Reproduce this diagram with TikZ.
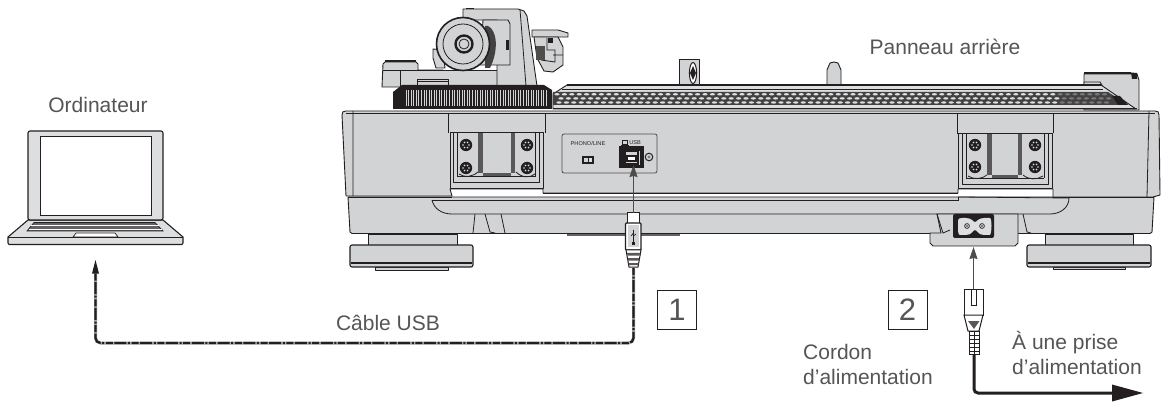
\documentclass[tikz,border=0pt]{standalone}
\usepackage{fontspec}
\setmainfont{Liberation Sans}
\usetikzlibrary{arrows.meta}
\definecolor{bodyg}{HTML}{D2D3D4}
\definecolor{lightg}{HTML}{DDDEDF}
\definecolor{ink}{HTML}{231F20}
\definecolor{txt}{HTML}{555555}
\tikzset{
  part/.style={draw=ink,fill=bodyg,line width=0.9pt,line join=round},
  ln/.style={draw=ink,line width=0.8pt},
  lbl/.style={font=\fontsize{21}{24}\selectfont,text=txt,inner sep=0pt},
  numbox/.style={draw=ink,line width=0.8pt,minimum width=39pt,minimum height=39pt,inner sep=0pt,font=\fontsize{31}{31}\selectfont,text=txt},
  thinarrow/.style={draw=ink!80,line width=1pt,-{Stealth[length=12pt,width=8pt,inset=1pt]}},
  screw/.pic={
    \fill[ink] (0,0) circle (6.2);
    \foreach \a in {0,60,...,300}{\fill[lightg] (\a:3) circle (0.9);}
  }
}
\begin{document}
\begin{tikzpicture}[x=1pt,y=-1pt]
\useasboundingbox (0,0) rectangle (1162,406);
\fill[white] (0,0) rectangle (1162,406);

% ---- rear posts
\filldraw[part] (679,86) -- (679,59.5) -- (699,59.5) -- (699,86) -- cycle;
\filldraw[draw=ink,fill=white,line width=1pt] (693,73) ellipse (3.6 and 10.5);
\fill[ink] (693,66) -- (696,73) -- (693,80) -- (690,73) -- cycle;
\filldraw[part] (827,86) -- (827,70) -- (830,63) -- (834,62) -- (838,63) -- (841,70) -- (841,86) -- cycle;
\filldraw[part] (1084,110) -- (1084,74) -- (1137,74) -- (1139,80) -- (1139,110) -- cycle;
\fill[ink] (1084,72.5) rectangle (1131,74.5);
\fill[ink] (1131,72.5) -- (1137,73) -- (1137,79) -- (1132,79) -- cycle;
\filldraw[part] (1084,82) -- (1100,82) -- (1103,87) -- (1084,87) -- cycle;

% ---- platter
\filldraw[part,fill=lightg] (553,94) -- (567,85) -- (1101,85) -- (1136,109) -- (553,109) -- cycle;
\draw[ink,line width=1.5pt] (567,85) -- (1101,85);
\draw[ink,line width=0.7pt] (562,89) -- (1103,89);
\fill[ink!85] (553,92) -- (1108,92) -- (1128,105) -- (553,105) -- cycle;
\foreach \i in {0,...,74}{
  \pgfmathsetmacro\xa{557+\i*7.4}
  \pgfmathsetmacro\xb{561+\i*7.4}
  \pgfmathsetmacro\xc{559+\i*7.4}
  \pgfmathsetmacro\op{\i>67?0.35:1}
  \fill[lightg,opacity=\op] (\xa,94.3) ellipse (2.6 and 1.2);
  \fill[lightg,opacity=\op] (\xb,98.4) ellipse (2.6 and 1.2);
  \fill[lightg,opacity=\op] (\xc,102.5) ellipse (2.6 and 1.2);
}
\fill[ink] (1112,96) -- (1120,96) -- (1128,105) -- (1118,105) -- cycle;
\draw[ink,line width=0.8pt] (553,108.5) -- (1137,108.5);

% ---- tonearm
\filldraw[part] (382,87) -- (383,64) -- (385,62) -- (416,62) -- (418,64) -- (418,70) -- (443,70) -- (443,87) -- cycle;
\draw[ink,line width=2pt] (385,61.5) -- (416,61.5);
\draw[ln] (383,70) -- (418,70) (400,70) -- (400,87);
\filldraw[part] (443,50) -- (433,49) -- (433,58) -- (436,68) -- (445,68) -- cycle;
\filldraw[part] (400,87) -- (400,70) -- (497,70) -- (497,87) -- cycle;
\filldraw[part] (417,79) rectangle (448,85);
\draw[ln] (417,81) -- (448,81);
\filldraw[part] (463,9) -- (463,20) -- (497,20) -- (497,86) -- (537,86) -- (527,16) -- (524,11) -- (518,9) -- cycle;
\draw[ln] (520,9.5) -- (526,86);
\draw[ink,line width=1.6pt] (466,8.5) -- (474,8.5);
% headshell
\filldraw[part] (532,30) -- (558,30) -- (568,33) -- (568,37) -- (532,37) -- cycle;
\filldraw[part] (534,37) -- (558,37) -- (563,47) -- (563,65) -- (553,72) -- (544,71) -- (537,58) -- cycle;
\draw[ln] (547,38) -- (547,50) -- (555,50) -- (555,62) -- (541,60) (553,55) -- (563,55);
\fill[ink] (548,38) rectangle (553,43);
\fill[ink!80] (536,46) rectangle (545,60);
% weight block
\filldraw[part] (483,20) -- (508,20) -- (510,24) -- (510,65) -- (480,65) -- cycle;
\fill[ink!85] (488,26) .. controls (497,30) and (499,50) .. (490,68) -- (485,68) -- (485,26) -- cycle;
\fill[ink] (506,40) rectangle (509,50);
% counterweight
\filldraw[draw=ink,fill=bodyg,line width=1.6pt] (463,44) circle (26.5);
\draw[ln] (463,44) circle (20);
\filldraw[draw=ink,fill=bodyg,line width=2.4pt] (464,44) circle (8.5);
\filldraw[draw=ink,fill=bodyg,line width=0.8pt] (464,44) circle (5);

% ---- ribbed ring
\fill[ink] (393,92) -- (402,85) -- (544,85) -- (552,90) -- (552,109) -- (393,109) -- cycle;
\foreach \i in {0,...,55}{
  \pgfmathsetmacro\xr{406+\i*2.55}
  \draw[bodyg,line width=0.7pt] (\xr,90) -- (\xr,106);
}

% ---- lower body
\filldraw[part] (348,197) -- (350,232) -- (352,233.5) -- (1150,233.5) -- (1152,232) -- (1154,197) -- cycle;
\fill[white] (490,235) rectangle (940,238);
\fill[ink!70] (567,234) rectangle (680,236.5);
\draw[ln] (432,200) .. controls (434,209) and (442,214) .. (452,214) -- (1050,214) .. controls (1060,214) and (1069,208) .. (1069,198);
\draw[ln] (475,214) -- (473,233) (485,214) -- (490,232) -- (495,233) (501,214) -- (505,233);
\draw[ln] (1023,214) -- (1027,232) -- (1031,233) ;

% ---- power bump
\filldraw[part] (930,233) -- (930,243) -- (933,246) -- (1015,246) -- (1018,243) -- (1018,214) -- (937,214) -- (941,233) -- cycle;
\draw[ln] (937,214) -- (943,233) -- (950,230);

% ---- main body
\filldraw[part] (342,115) .. controls (342,112) and (343,111) .. (346,111) -- (1155,111) .. controls (1158,111) and (1159,112) .. (1159,115) -- (1160,195) -- (1153,197) -- (1053,197) -- (1053,189) -- (958,189) -- (958,193) -- (543,193) -- (543,189) -- (450,189) -- (452,196) -- (346,196) -- cycle;
\draw[ln] (353,111) -- (353,196) (1149,111) -- (1147,197);
\draw[ink,line width=1pt] (346,113.5) -- (1155,113.5);
\draw[ln] (348,197) -- (452,197);
\draw[ln] (543,193) -- (958,193);
\draw[ln] (452,200) -- (958,200) -- (958,197);
\draw[ln] (1053,197) -- (1154,197);
\draw[ln] (432,200) -- (452,200);
\draw[ln] (958,197) -- (1069,198);

% ---- left pocket
\draw[ln] (448,113) -- (448,133) (545,113) -- (545,133);
\filldraw[part,line width=1pt] (450,133) -- (450,189) -- (543,189) -- (543,133) -- cycle;
\filldraw[part,line width=1pt] (453,133) rectangle (539,183);
\fill[ink!75] (478,133) rectangle (483,173);
\fill[ink!75] (511,133) rectangle (515,173);
\fill[ink!75] (483,173) rectangle (511,176);
\draw[ln] (457,133) -- (457,176) (535,133) -- (535,176) (457,176) -- (536,176);
\draw[ln] (459,174) .. controls (465,178) and (472,177) .. (478,172);
\draw[ln] (516,172) .. controls (522,178) and (530,178) .. (535,174);
\foreach \p in {(466,145),(466,168),(527,145),(527,168)} \pic at \p {screw};

% ---- right pocket
\draw[ln] (957,113) -- (957,133) (1053,113) -- (1053,133);
\draw[ln] (957,133) -- (1053,133);
\filldraw[part,line width=1pt] (958,134) -- (958,189) -- (1052,189) -- (1052,134) -- cycle;
\filldraw[part,line width=1pt] (962,134) rectangle (1048,185);
\fill[ink!75] (987,134) rectangle (992,175);
\fill[ink!75] (1018,134) rectangle (1022,175);
\fill[ink!75] (992,175) rectangle (1018,178);
\draw[ln] (966,134) -- (966,178) (1044,134) -- (1044,178) (966,178) -- (1044,178);
\draw[ln] (968,176) .. controls (974,180) and (982,179) .. (987,175);
\draw[ln] (1023,175) .. controls (1029,180) and (1037,180) .. (1043,176);
\foreach \p in {(975,145),(975,167),(1035,145),(1035,167)} \pic at \p {screw};

% ---- USB panel
\filldraw[draw=ink!80,fill=bodyg,line width=0.8pt,rounded corners=2pt] (562,134) rectangle (657,173);
\node (phono) at (588,143) [inner sep=0pt,text=ink,font=\fontsize{5.6}{6}\selectfont] {PHONO/LINE};
\node (usblabel) at (635,143) [inner sep=0pt,text=ink,font=\fontsize{5.6}{6}\selectfont] {USB};
\draw[ink,line width=0.6pt] (622,140.5) rectangle (627,144) (620.5,145.5) -- (628.5,145.5);
\fill[ink] (582,156) rectangle (594,164);
\fill[bodyg] (584,158) rectangle (587.5,162);
\fill[lightg] (589,158) rectangle (592,162);
\node (usbport) at (631.5,157) [fill=ink,minimum width=25pt,minimum height=22pt,inner sep=0pt] {};
\filldraw[draw=ink,fill=bodyg,line width=0.5pt] (623,150) -- (640,150) -- (640,165) -- (623,165) -- cycle;
\filldraw[draw=ink,fill=bodyg,line width=1.5pt] (625,151) -- (638,151) -- (638,164) -- (625,164) -- cycle;
\fill[ink] (626,155) rectangle (637,162);
\fill[white] (628,157) rectangle (635,160);
\filldraw[draw=ink,fill=bodyg,line width=1pt] (649,157) circle (3.8);
\fill[ink!60] (649,157) circle (1.6);

% ---- feet
\filldraw[part] (368,234) rectangle (457,245);
\filldraw[part] (375,267) rectangle (448,270);
\filldraw[part,line width=1.1pt,rounded corners=2pt] (350,245) rectangle (473,267);
\draw[ink,line width=1.1pt] (351,263) -- (472,263);
\filldraw[part] (1045,234) rectangle (1133,245);
\filldraw[part] (1053,267) rectangle (1125,269.5);
\filldraw[part,line width=1.1pt,rounded corners=2pt] (1027,245) rectangle (1151,267);
\draw[ink,line width=1.1pt] (1028,263) -- (1150,263);

% ---- AC inlet
\node (inlet) at (973.5,226) [fill=ink,rounded corners=2pt,minimum width=41pt,minimum height=24pt,inner sep=0pt] {};
\filldraw[draw=none,fill=lightg] (958,222) .. controls (958,218) and (960,218) .. (962,218) -- (966,218) .. controls (972,218) and (973,222) .. (975,222) .. controls (977,222) and (978,218) .. (984,218) -- (990,218) .. controls (992,219) and (992,232) .. (990,235) -- (984,235) .. controls (978,235) and (977,230) .. (975,230) .. controls (973,230) and (972,235) .. (966,235) -- (960,235) .. controls (958,235) and (958,232) .. (958,222) -- cycle;
\draw[ink,line width=0.7pt] (967,226) circle (2.4) (982,226) circle (2.4);
\fill[ink] (967,226) circle (0.8) (982,226) circle (0.8);

% ---- laptop
\filldraw[part,fill=lightg,line width=1.1pt] (28,220) -- (163,220) -- (183,237) -- (183,243) -- (182,244.5) -- (9,244.5) -- (8,243) -- (8,237) -- cycle;
\draw[ink,line width=0.9pt] (8,237.5) -- (183,237.5);
\filldraw[part,fill=lightg,line width=1.1pt,rounded corners=2pt] (28,220) rectangle (163,131);
\filldraw[draw=ink,fill=white,line width=1pt] (40,137) rectangle (151,216);
\filldraw[draw=ink,fill=ink!70,line width=0.7pt] (34,222.5) -- (155,222.5) -- (163,231) -- (27,231) -- cycle;
\draw[white,line width=0.9pt] (31,225.5) -- (159,225.5);
\draw[white,line width=0.9pt] (29,229) -- (162,229);
\filldraw[draw=ink,fill=white,line width=0.7pt] (76,233) -- (115,233) -- (118,237) -- (73,237) -- cycle;

% ---- USB plug
\node (usbstem) at (633.5,218) [draw=ink,fill=white,line width=1pt,minimum width=12pt,minimum height=11pt,inner sep=0pt] {};
\filldraw[draw=ink,fill=white,line width=1.1pt,rounded corners=1pt] (625.5,223) rectangle (641,250);
\filldraw[draw=none,fill=bodyg] (627.5,225.5) rectangle (639,247.5);
\draw[ink,line width=0.7pt] (633.5,230) -- (633.5,243) (633.5,233) -- (631,236) (633.5,236) -- (636,234);
\fill[ink] (632,242) rectangle (635,245);
\filldraw[draw=ink,fill=white,line width=1pt] (626,250) -- (641,250) -- (638,267) -- (629,267) -- cycle;
\fill[ink!75] (627,253) -- (640,253) -- (639.5,255.5) -- (627.5,255.5) -- cycle;
\fill[ink!75] (627.7,258) -- (639.3,258) -- (639,260.5) -- (628.2,260.5) -- cycle;
\fill[ink!75] (628.5,263) -- (638.5,263) -- (638,265) -- (629,265) -- cycle;
\coordinate (usbtip) at (633.5,165);
\coordinate (plugtop) at (633.5,213);
\draw[thinarrow] (plugtop) -- (usbtip);

% ---- USB cable
\coordinate (cabstart) at (633.5,268);
\coordinate (cabend) at (95.5,272);
\coordinate (captip) at (95.5,260);
\draw[ink!40,line width=3pt,rounded corners=5pt] (cabstart) -- (633.5,343) -- (95.5,343) -- (cabend);
\draw[ink,line width=2.3pt,dash pattern=on 7pt off 1.6pt on 2pt off 1.6pt on 12pt off 1.6pt,rounded corners=5pt] (cabstart) -- (633.5,343) -- (95.5,343) -- (cabend);
\fill[ink] (captip) -- (99,273.5) -- (92,273.5) -- cycle;

% ---- power plug
\coordinate (actip) at (973.5,247);
\coordinate (pltop) at (973.5,289);
\draw[thinarrow] (pltop) -- (actip);
\node (plughead) at (973.5,302) [draw=ink,fill=white,line width=1pt,minimum width=19pt,minimum height=26pt,inner sep=0pt] {};
\draw[ink,line width=0.7pt] (971.5,290) -- (971.5,305) -- (976,305) -- (976,290);
\filldraw[draw=ink,fill=white,line width=1pt] (964,315) -- (983,315) -- (979,331) -- (968,331) -- cycle;
\fill[ink!75] (968,321) -- (979.5,321) -- (974,329) -- cycle;
\filldraw[draw=ink,fill=white,line width=1pt] (969,331) rectangle (979,354);
\draw[ink,line width=0.8pt] (974,331) -- (974,354);
\foreach \yy in {335,339,343,347,351} \draw[ink,line width=0.8pt] (969,\yy) -- (979,\yy);
\coordinate (powstart) at (974,354);
\coordinate (powend) at (1143,393);
\draw[ink,line width=3pt,rounded corners=4pt] (powstart) -- (974,393) -- (1113,393);
\fill[ink] (powend) -- (1112,384.5) -- (1112,401.5) -- cycle;

% ---- labels
\node (lapname) at (98,105) [lbl] {Ordinateur};
\node (pan) at (945,47) [lbl] {Panneau arrière};
\node (cab) at (388,323) [lbl] {Câble USB};
\node (one) at (677,310) [numbox] {1};
\node (two) at (907.5,310) [numbox] {2};
\node (cord) at (803,352) [lbl,anchor=west] {Cordon};
\node (cord2) at (803,377) [lbl,anchor=west] {d’alimentation};
\node (prise) at (1012,343) [lbl,anchor=west] {À une prise};
\node (prise2) at (1012,367) [lbl,anchor=west] {d’alimentation};
\end{tikzpicture}
\end{document}
